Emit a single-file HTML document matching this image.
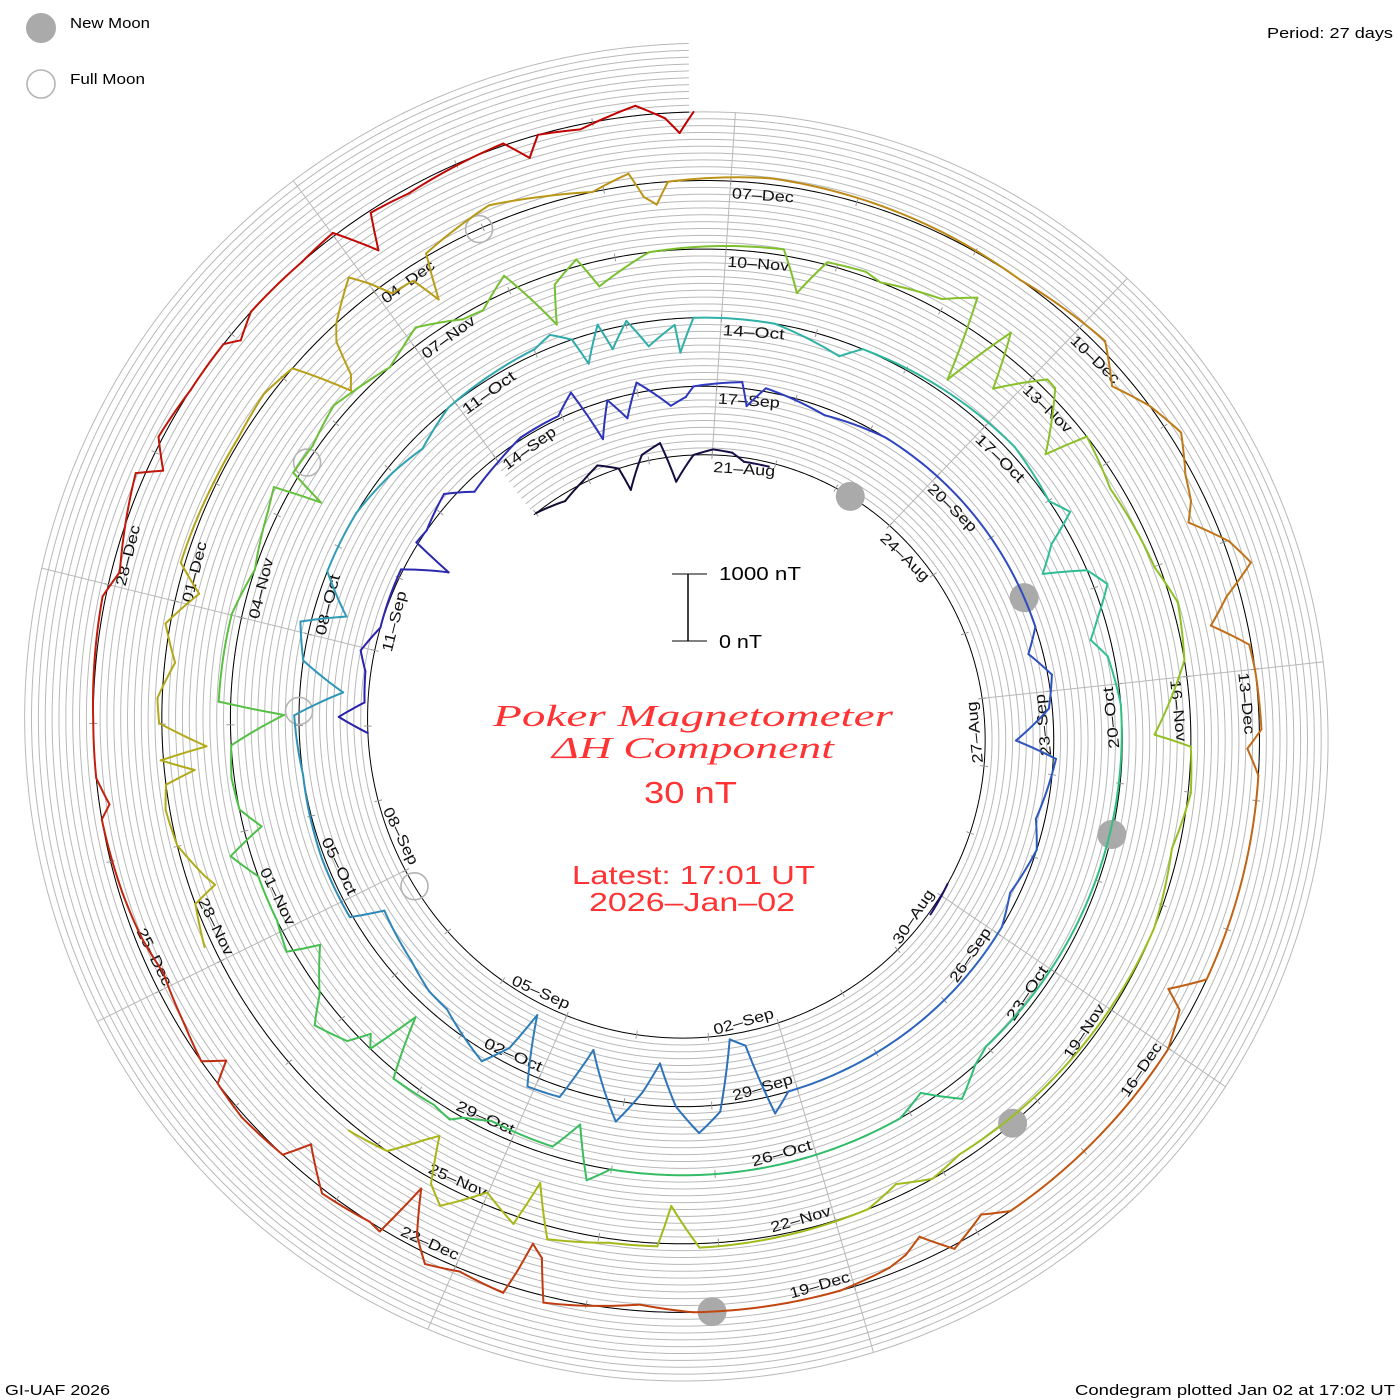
<!DOCTYPE html>
<html>
<head>
<meta charset="utf-8">
<style>
html,body{margin:0;padding:0;background:#fff;}
svg{display:block;}
text{font-family:"Liberation Sans",sans-serif;}
</style>
</head>
<body>
<svg id="chart" width="1400" height="1400" viewBox="0 0 1400 1400" xmlns="http://www.w3.org/2000/svg">
  <rect x="0" y="0" width="1400" height="1400" fill="#fff"/>
  <g id="grid"></g>
  <g id="radials"></g>
  <g id="baseline"></g>
  <g id="ticks"></g>
  <g id="labels"></g>
  <g id="moons"></g>
  <g id="trace"></g>

  <g>
    <circle cx="41" cy="28" r="15" fill="#aaaaaa"/>
    <text x="70" y="28" font-size="15" fill="#000" textLength="80" lengthAdjust="spacingAndGlyphs">New Moon</text>
    <circle cx="41" cy="84" r="14" fill="none" stroke="#b4b4b4" stroke-width="1.6"/>
    <text x="70" y="84" font-size="15" fill="#000" textLength="75" lengthAdjust="spacingAndGlyphs">Full Moon</text>
  </g>
  <text x="1393" y="38" font-size="15" fill="#000" text-anchor="end" textLength="126" lengthAdjust="spacingAndGlyphs">Period: 27 days</text>

  <g>
    <line x1="688" y1="574" x2="688" y2="641" stroke="#000" stroke-width="1.5"/>
    <line x1="672" y1="574" x2="707" y2="574" stroke="#000" stroke-width="1"/>
    <line x1="672" y1="641" x2="707" y2="641" stroke="#000" stroke-width="1"/>
    <text x="719" y="580" font-size="18" fill="#000" textLength="82" lengthAdjust="spacingAndGlyphs">1000 nT</text>
    <text x="719" y="648" font-size="18" fill="#000" textLength="43" lengthAdjust="spacingAndGlyphs">0 nT</text>
  </g>

  <g fill="#ff3333">
    <text x="493" y="726" font-size="31" font-style="italic" style="font-family:'Liberation Serif',serif" textLength="400" lengthAdjust="spacingAndGlyphs">Poker Magnetometer</text>
    <text x="552" y="758" font-size="31" font-style="italic" style="font-family:'Liberation Serif',serif" textLength="282" lengthAdjust="spacingAndGlyphs">ΔH Component</text>
    <text x="644" y="803" font-size="31" textLength="93" lengthAdjust="spacingAndGlyphs">30 nT</text>
    <text x="572" y="884" font-size="26" textLength="243" lengthAdjust="spacingAndGlyphs">Latest: 17:01 UT</text>
    <text x="589" y="911" font-size="26" textLength="206" lengthAdjust="spacingAndGlyphs">2026–Jan–02</text>
  </g>

  <text x="5" y="1395" font-size="15" fill="#000" textLength="105" lengthAdjust="spacingAndGlyphs">GI-UAF 2026</text>
  <text x="1395" y="1395" font-size="15" fill="#000" text-anchor="end" textLength="320" lengthAdjust="spacingAndGlyphs">Condegram plotted Jan 02 at 17:02 UT</text>
</svg>

<script>
// ---- data: days since 2025-08-20 17:00 UT, and ΔH deviation (nT) ----
var sampleDays = [
-2.7,-2.2,-1.8,-1.5,-1.2,-1.1,-0.8,-0.5,-0.3,0,0.3,0.6,0.8,1.2,1.3,
9.1,9.6,9.7,
20.2,20.4,20.6,21.0,21.25,21.6,22.4,22.7,22.8,23.0,23.5,23.8,24.3,24.7,25.25,25.5,25.7,25.9,26.1,26.3,26.7,26.9,
27.0,27.6,27.7,27.9,28.7,29.5,31,32.5,32.8,33.1,33.5,33.9,34.1,34.85,35.2,35.8,36.2,38,39.4,39.6,39.8,40.0,40.2,40.44,40.7,40.93,
41.1,41.34,41.8,42.0,42.37,42.65,42.75,42.94,43.6,43.9,44.3,44.97,45.1,45.35,45.8,46.75,47.4,47.7,48.0,48.4,48.6,49.0,49.7,50.3,50.7,
51.2,52.3,52.5,52.7,52.8,53.0,53.1,53.3,53.5,53.8,53.85,54.0,
54.85,55.6,55.8,57.65,58.3,58.5,58.7,58.95,59.1,59.3,59.6,59.8,60.0,60.5,64.3,64.5,64.8,65.1,65.4,67.5,68.3,68.5,68.7,68.9,69.55,69.8,69.9,
70.1,70.55,70.8,70.9,71.0,71.1,71.4,71.6,72.0,72.1,72.4,72.85,73.1,73.3,73.5,73.8,74.1,74.4,74.5,75.3,75.75,76.3,76.5,76.6,76.7,77.0,77.4,77.6,
78.0,78.2,78.4,78.8,79.0,79.3,79.6,79.7,79.95,80.1,80.6,81.0,
81.8,82.0,82.2,82.55,82.7,83.25,83.5,83.7,83.9,84.1,84.4,84.5,84.9,85.0,85.5,86.3,86.65,87.15,87.8,87.9,88.3,88.8,89.5,92.1,92.4,92.7,93.0,
94.45,94.7,94.8,95.2,95.7,95.9,96.0,96.3,96.6,96.75,96.9,97.0,97.2,97.55,97.7,
99.45,99.8,99.9,100.0,100.3,100.6,100.8,100.9,101.0,101.1,101.3,101.5,101.8,102.1,102.4,102.6,103.3,103.7,104.1,104.4,104.6,104.7,104.8,104.9,
105.2,105.3,105.4,105.6,105.7,105.8,106.4,106.8,107.2,107.5,107.6,107.7,107.8,
108.6,110.7,111.5,111.8,112.1,112.4,112.7,112.9,113.05,113.3,113.5,113.7,113.9,114.1,114.3,114.75,114.9,115.1,116.7,116.9,117.0,117.3,
119.0,119.2,119.5,119.7,119.85,120.0,120.4,121.5,121.9,122.4,122.6,122.7,122.8,122.85,122.9,123.25,123.5,123.65,123.8,123.9,124.0,124.4,124.7,124.8,
125.2,125.5,125.6,125.7,126.0,126.4,126.7,127.05,127.6,127.7,127.9,128.3,129.2,129.4,130.1,130.2,130.4,130.8,131.2,131.3,131.5,132.0,132.3,132.5,132.6,
132.9,133.65,133.8,133.9,134.2,134.6,134.8,134.9,135.0
];
var deltaH = [
0,-100,30,150,0,-350,100,220,-370,0,80,50,-60,-60,null,
0,30,null,
0,420,50,80,200,0,30,-600,30,0,130,-170,-70,30,40,280,-520,0,-330,150,-260,-150,
0,90,-250,50,-100,0,0,0,-210,60,-50,-550,40,-130,0,-130,0,0,0,260,-800,-930,100,390,0,-620,
-175,300,-650,150,175,-830,-220,150,-175,-200,-320,-440,40,40,40,0,70,-630,0,150,-480,0,0,-100,-190,
0,70,175,0,-410,100,-300,60,-360,-90,-500,0,
0,-220,0,100,0,175,-300,-610,0,200,-100,-280,-90,0,-90,0,260,-160,0,0,0,220,-550,-130,-150,0,120,
60,100,-790,0,-160,160,365,30,-380,90,0,0,290,-260,0,40,0,-780,175,150,0,150,230,-480,90,70,190,120,
0,100,220,-60,-90,230,-720,-160,100,-365,0,30,
90,-500,40,70,0,160,440,-800,300,-500,130,120,-630,0,-150,-70,90,0,-530,0,40,-100,0,-100,0,-175,0,
60,-550,45,60,190,-570,120,-175,290,70,-600,-420,0,100,null,
120,0,-365,-260,0,60,0,-440,40,-640,40,70,-150,70,-320,60,40,40,90,0,-850,-690,-200,0,
390,130,-175,-200,-630,40,260,120,0,175,-190,-320,0,
90,0,120,-250,0,160,-100,-200,-365,80,280,-200,-525,-30,0,30,-175,0,0,-440,-150,0,
0,-190,50,-335,-175,-90,0,0,-90,50,100,-525,-690,-250,120,45,150,-175,-800,45,0,60,-390,0,
45,0,-300,0,-90,-175,-90,-45,0,-145,0,0,45,-120,130,-220,60,0,0,-160,0,0,45,-550,-30,
-75,30,-290,0,-70,145,-75,-300,0
];
// dates of date labels (every 3 days), moon phases
var labelStart = "2025-08-21";
var labelCount = 44;
var newMoons = ["2025-08-23T06:06Z","2025-09-21T19:54Z","2025-10-21T12:25Z","2025-11-20T06:47Z","2025-12-20T01:43Z"];
var fullMoons = ["2025-09-07T18:09Z","2025-10-07T03:48Z","2025-11-05T13:19Z","2025-12-04T23:14Z"];
var periodDays = 27;
var nTPerTurn = 1000;

// ---- geometry ----
var CX = 693.5, CY = 729.3, R0 = 274.3, TURN = 68.6;
var D0 = -2.75, D1 = 135.0;
var ORIGIN = Date.UTC(2025, 7, 20, 17, 0);
var NS = "http://www.w3.org/2000/svg";
var MONTHS = ["Jan","Feb","Mar","Apr","May","Jun","Jul","Aug","Sep","Oct","Nov","Dec"];

function dayOf(str){ return (Date.parse(str) - ORIGIN) / 86400000; }
function thetaOf(d){ return d / periodDays * 2 * Math.PI; }
function rBase(d){ return R0 + TURN * d / periodDays; }
function offPx(nT){ return nT * TURN / nTPerTurn; }
function pt(d, off){
  var t = thetaOf(d), r = rBase(d) + off;
  return [CX + r * Math.sin(t), CY - r * Math.cos(t)];
}
function spiralPath(off, a, b){
  var s = "", first = true;
  for (var d = a; d <= b + 1e-9; d += 0.04){
    var p = pt(d, off);
    s += (first ? "M" : "L") + p[0].toFixed(2) + " " + p[1].toFixed(2);
    first = false;
  }
  return s;
}
function mk(tag, attrs, parent){
  var el = document.createElementNS(NS, tag);
  for (var k in attrs) el.setAttribute(k, attrs[k]);
  parent.appendChild(el);
  return el;
}

// colour ramp (style)
var rampDays = [-3,2,9,20,28,36,42,48,54,60,66,72,78,84,90,96,102,108,114,120,126,135];
var rampCols = ["#140a30","#1a1050","#22106a","#2a1ea8","#2e3cc0","#2e5cc0","#2e7ab8","#2f98b8","#30b0aa","#30c090","#30bc6c","#44c050","#70c034","#88c02a","#98c020","#a8b818","#b4a818","#bc9416","#c07018","#c04c10","#c02a12","#c00000"];
function hex2rgb(h){ return [parseInt(h.substr(1,2),16),parseInt(h.substr(3,2),16),parseInt(h.substr(5,2),16)]; }
function colorAt(d){
  for (var i = 0; i < rampDays.length - 1; i++){
    if (d <= rampDays[i+1]){
      var f = Math.max(0, (d - rampDays[i]) / (rampDays[i+1] - rampDays[i]));
      var a = hex2rgb(rampCols[i]), b = hex2rgb(rampCols[i+1]);
      return "rgb(" + Math.round(a[0]+(b[0]-a[0])*f) + "," + Math.round(a[1]+(b[1]-a[1])*f) + "," + Math.round(a[2]+(b[2]-a[2])*f) + ")";
    }
  }
  return rampCols[rampCols.length-1];
}

// grid spirals (every 100 nT)
var gGrid = document.getElementById("grid");
for (var k = 1; k <= 10; k++){
  var gp = mk("path", {d: spiralPath(offPx(k * 100), D0, D1), fill: "none", stroke: "#b8b8b8", "stroke-width": "1"}, gGrid);
  
  
}

// baseline
var gBase = document.getElementById("baseline");
var bp = mk("path", {d: spiralPath(0, D0, D1), fill: "none", stroke: "#000", "stroke-width": "1"}, gBase);



// label dates
var firstLabelDay = dayOf(labelStart + "T00:00Z");
var labelDays = [];
for (var i = 0; i < labelCount; i++) labelDays.push(firstLabelDay + 3 * i);

// radial lines
var gRad = document.getElementById("radials");
for (var i = 0; i < 9; i++){
  var dA = labelDays[i];
  var nTurns = Math.floor((D1 - dA) / periodDays);
  var p1 = pt(dA, 0), p2 = pt(dA + nTurns * periodDays, offPx(1000));
  var ln = mk("line", {x1: p1[0], y1: p1[1], x2: p2[0], y2: p2[1], stroke: "#b8b8b8", "stroke-width": "1"}, gRad);
  
  
}

// day ticks
var gTick = document.getElementById("ticks");
for (var d = firstLabelDay - 3; d <= D1; d += 1){
  if (d < D0) continue;
  var a = pt(d, -4), b = pt(d, 4);
  var tk = mk("line", {x1: a[0], y1: a[1], x2: b[0], y2: b[1], stroke: "#999", "stroke-width": "1"}, gTick);
  
  
}

// date labels
var gLab = document.getElementById("labels");
for (var i = 0; i < labelDays.length; i++){
  var d = labelDays[i];
  var dt = new Date(ORIGIN + d * 86400000);
  var txt = ("0" + dt.getUTCDate()).slice(-2) + "–" + MONTHS[dt.getUTCMonth()];
  var thDeg = (d / periodDays * 360) % 360;
  if (thDeg < 0) thDeg += 360;
  var turn = Math.floor(d / periodDays);
  var flip = (thDeg > 90 && thDeg < 270) || (thDeg > 80 && thDeg <= 90 && turn < 3);
  var p = pt(d, 0);
  var t = mk("text", {
    "font-size": "15", fill: "#111",
    textLength: "62", lengthAdjust: "spacingAndGlyphs"
  }, gLab);
  if (!flip){
    t.setAttribute("transform", "translate(" + p[0].toFixed(2) + "," + p[1].toFixed(2) + ") rotate(" + thDeg.toFixed(2) + ")");
    t.setAttribute("x", "2"); t.setAttribute("y", "17");
    t.setAttribute("text-anchor", "start");
  } else {
    t.setAttribute("transform", "translate(" + p[0].toFixed(2) + "," + p[1].toFixed(2) + ") rotate(" + (thDeg - 180).toFixed(2) + ")");
    t.setAttribute("x", "-2"); t.setAttribute("y", "-6");
    t.setAttribute("text-anchor", "end");
  }
  t.textContent = txt;
  
  
}

// moons
var gMoon = document.getElementById("moons");
newMoons.forEach(function(s){
  var p = pt(dayOf(s), 0);
  var c = mk("circle", {cx: p[0], cy: p[1], r: 14.5, fill: "#aaaaaa"}, gMoon);
  
  
});
fullMoons.forEach(function(s){
  var p = pt(dayOf(s), 0);
  var c = mk("circle", {cx: p[0], cy: p[1], r: 13.5, fill: "none", stroke: "#b4b4b4", "stroke-width": "1.6"}, gMoon);
  
  
});

// trace
var gTr = document.getElementById("trace");
for (var i = 0; i < sampleDays.length - 1; i++){
  var v0 = deltaH[i], v1 = deltaH[i+1];
  if (v0 === null || v1 === null) continue;
  var d0 = sampleDays[i], d1 = sampleDays[i+1];
  var n = Math.max(1, Math.ceil((d1 - d0) / 0.05));
  var s = "";
  for (var j = 0; j <= n; j++){
    var f = j / n;
    var p = pt(d0 + (d1 - d0) * f, offPx(v0 + (v1 - v0) * f));
    s += (j ? "L" : "M") + p[0].toFixed(2) + " " + p[1].toFixed(2);
  }
  var seg = mk("path", {d: s, fill: "none", stroke: colorAt((d0 + d1) / 2), "stroke-width": "2", "stroke-linejoin": "round", "stroke-linecap": "round"}, gTr);
  
  
}
</script>
</body>
</html>
